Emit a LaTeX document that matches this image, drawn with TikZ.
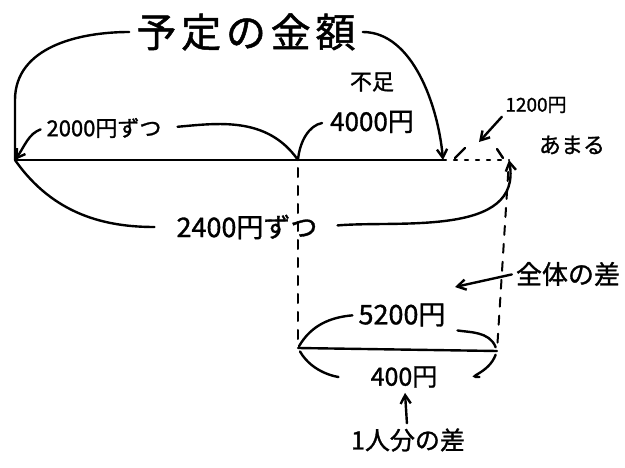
\documentclass[tikz,border=0pt]{standalone}
\usepackage{fontspec}
\setmainfont{Noto Sans CJK JP}[FakeBold=1.2]
\usetikzlibrary{positioning,arrows.meta}
\tikzset{
  >={Straight Barb[length=3mm,width=3.6mm]},
}

\begin{document}
\begin{tikzpicture}[x=1pt, y=1pt, line width=2.4pt, line cap=round,
  lbl/.style={inner sep=1pt, font=\fontsize{22}{24}\selectfont},
  big/.style={inner sep=2pt, font=\fontsize{40}{42}\selectfont\addfontfeature{LetterSpace=12}},
  guide/.style={dash pattern=on 9pt off 9pt, line width=2pt},
  dots/.style={dash pattern=on 3pt off 8pt, line width=2.4pt},
]
  \useasboundingbox (0,0) rectangle (625,-468);
  % points on the tape
  \coordinate (pa) at (15,-160);
  \coordinate (pb) at (298,-160);
  \coordinate (pc) at (443,-160);
  \coordinate (pd) at (509,-160);
  \coordinate (qa) at (298,-348);
  \coordinate (qb) at (497,-351);
  \coordinate (pside) at (15,-100);
  \coordinate (rem) at (479,-142);
  \coordinate (gap) at (455,-287);

  % labels
  \node[big] (plan) at (246,-32) {予定の金額};
  \node[lbl] (each2000) at (104,-128) {2000円ずつ};
  \node[lbl] (lack) at (372,-82) {不足};
  \node[lbl, font=\fontsize{26}{28}\selectfont] (lack4000) at (372,-122) {4000円};
  \node[lbl, font=\fontsize{19}{21}\selectfont] (over1200) at (536,-105) {1200円};
  \node[lbl] (over) at (572,-145) {あまる};
  \node[lbl, font=\fontsize{27}{29}\selectfont] (each2400) at (247,-227) {2400円ずつ};
  \node[lbl, font=\fontsize{26}{28}\selectfont] (total) at (568,-274) {全体の差};
  \node[lbl, font=\fontsize{27}{29}\selectfont] (diff5200) at (402,-315) {5200円};
  \node[lbl, font=\fontsize{25}{27}\selectfont] (diff400) at (404,-377) {400円};
  \node[lbl, font=\fontsize{25}{27}\selectfont] (person) at (408,-440) {1人分の差};

  % tape
  \draw (pa) -- (pc);
  \draw[dots] (pc) -- (pd);
  \draw[guide, shorten <=8pt, shorten >=3pt] (pb) -- (qa);
  \draw[guide, shorten <=12pt, shorten >=3pt] (pd) -- (qb);
  \draw (qa) -- (qb);

  % braces above
  \draw[shorten <=4pt] (plan.west) to[out=180, in=90] (pside) -- (pa);
  \draw[->, shorten <=4pt] (plan.east) to[out=0, in=95, looseness=0.9] (pc);
  \draw[->, shorten <=4pt] (each2000.west) to[out=200, in=55] (pa);
  \draw[shorten <=14pt] (each2000.east) to[out=5, in=125] (pb);
  \draw[shorten >=6pt] (pb) to[out=85, in=190] (lack4000.west);
  \draw ([xshift=12pt,yshift=2pt]pc) -- ++(10,10);
  \draw ([xshift=-6pt,yshift=2pt]pd) -- ++(-6,9);
  \draw[->, shorten <=2pt] (over1200.south west) -- (rem);

  % brace below
  \draw[shorten >=20pt] (pa) to[out=-55, in=180] (each2400.west);
  \draw[->, shorten <=18pt] (each2400.east) to[out=5, in=-80] (pd);

  % difference part
  \draw[->, shorten <=2pt] (total.west) -- (gap);
  \draw[shorten <=4pt, shorten >=2pt] (diff5200.west) to[out=185, in=60] (qa);
  \draw[shorten <=10pt, shorten >=4pt] (diff5200.south east) to[out=-10, in=110] (qb);
  \draw[shorten <=4pt, shorten >=30pt] (qa) to[out=-60, in=180] (diff400.west);
  \draw[shorten <=40pt, shorten >=4pt] (diff400.east) to[out=0, in=-110] (qb);
  \draw[->, shorten <=3pt, shorten >=3pt] (person) -- (diff400);
\end{tikzpicture}
\end{document}
